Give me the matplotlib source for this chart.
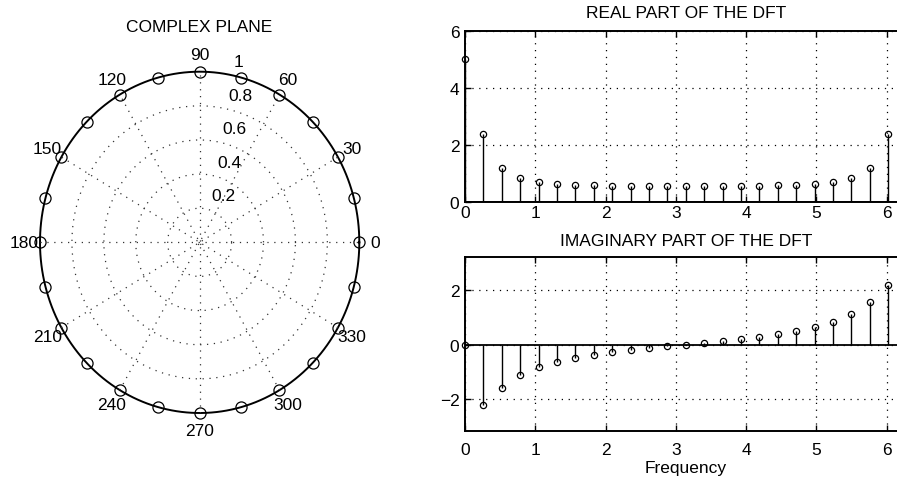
import numpy as np
import matplotlib
matplotlib.use('Agg')
from matplotlib import pyplot as plt

plt.rcParams['font.family'] = ['Liberation Sans', 'DejaVu Sans']
plt.rcParams['font.size'] = 12.5

# DFT frequencies (rad/sample), 24 bins
freq = [0.0, 0.2618, 0.5236, 0.7854, 1.0472, 1.3090, 1.5708, 1.8326,
        2.0944, 2.3562, 2.6180, 2.8798, 3.1416, 3.4034, 3.6652, 3.9270,
        4.1888, 4.4506, 4.7124, 4.9742, 5.2360, 5.4978, 5.7596, 6.0214]
re_X = [5.0, 2.4043, 1.2077, 0.8539, 0.7143, 0.6468, 0.6098, 0.5876,
        0.5738, 0.5650, 0.5595, 0.5565, 0.5556, 0.5565, 0.5595, 0.5650,
        0.5738, 0.5876, 0.6098, 0.6468, 0.7143, 0.8539, 1.2077, 2.4043]
im_X = [0.0, -2.1906, -1.5726, -1.1122, -0.8248, -0.6304, -0.4878, -0.3762,
        -0.2839, -0.2041, -0.1322, -0.0650, 0.0, 0.0650, 0.1322, 0.2041,
        0.2839, 0.3762, 0.4878, 0.6304, 0.8248, 1.1122, 1.5726, 2.1906]
radius = [1.0] * 24

ring_ticks = [0.2, 0.4, 0.6, 0.8, 1.0]
ring_labels = ['0.2', '0.4', '0.6', '0.8', '1']
spoke_angles = [0, 30, 60, 90, 120, 150, 180, 210, 240, 270, 300, 330]

dots = (0, (1, 4.5))

fig = plt.figure(figsize=(8.97, 4.81), dpi=100)

# ---- complex plane (polar-style, drawn on cartesian axes) ----
ax = fig.add_axes([40 / 897, 67 / 481, 319.3 / 897, 341.3 / 481])
ax.set_xlim(-1, 1)
ax.set_ylim(-1, 1)
ax.axis('off')

t = np.linspace(0, 2 * np.pi, 400)
for r in ring_ticks[:-1]:
    ax.plot(r * np.cos(t), r * np.sin(t), linestyle=dots, color='0.2', lw=0.9)
ax.plot(np.cos(t), np.sin(t), '-', color='k', lw=1.4, clip_on=False)
for a in spoke_angles[:6]:
    c, s = np.cos(np.radians(a)), np.sin(np.radians(a))
    ax.plot([-c, c], [-s, s], linestyle=dots, color='0.2', lw=0.9)
for a in spoke_angles:
    c, s = np.cos(np.radians(a)), np.sin(np.radians(a))
    ax.text(1.1 * c, 1.1 * s, str(a), ha='center', va='center', clip_on=False)
ca, sa = np.cos(np.radians(80)), np.sin(np.radians(80))
for r, lab in zip(ring_ticks, ring_labels):
    ax.text(r * ca + 0.04, r * sa + 0.075, lab, ha='left', va='center',
            clip_on=False)

ang = np.array(freq)
ax.plot(np.array(radius) * np.cos(ang), np.array(radius) * np.sin(ang), 'o',
        mfc='none', mec='k', ms=8, mew=0.9, clip_on=False)
fig.text(199.5 / 897, 1 - 27 / 481, 'COMPLEX PLANE', ha='center', va='center')


def stem_axes(rect, y, ylim, yticks, xpad):
    a = fig.add_axes(rect)
    a.vlines(freq, 0, y, color='k', lw=1.0)
    a.plot(freq, y, 'o', mfc='none', mec='k', ms=4.5, mew=0.9, clip_on=False)
    a.axhline(0, color='k', lw=1.3)
    a.set_xlim(0, 2 * np.pi)
    a.set_ylim(*ylim)
    a.set_xticks([0, 1, 2, 3, 4, 5, 6])
    a.set_yticks(yticks)
    a.set_yticklabels([str(v).replace('-', '\u2212') for v in yticks])
    a.grid(True, linestyle=dots, color='k', lw=0.9)
    a.tick_params(direction='in', top=True, right=True, length=4,
                  width=1.0, labelsize=12.5)
    a.tick_params(axis='x', pad=xpad)
    a.tick_params(axis='y', pad=4)
    for sp in a.spines.values():
        sp.set_linewidth(1.4)
    return a


left = 465 / 897
width = 441.6 / 897
ax1 = stem_axes([left, 1 - 203.3 / 481, width, 171.6 / 481], re_X,
                (0, 6), [0, 2, 4, 6], 2)
ax1.set_title('REAL PART OF THE DFT', pad=10, fontsize=12.5)

ax2 = stem_axes([left, 1 - 431.7 / 481, width, 173.4 / 481], im_X,
                (-np.pi, np.pi + 0.05), [-2, 0, 2], 8)
ax2.set_title('IMAGINARY PART OF THE DFT', pad=9, fontsize=12.5)
ax2.set_xlabel('Frequency', labelpad=2)

fig.savefig('out.png', dpi=100)
